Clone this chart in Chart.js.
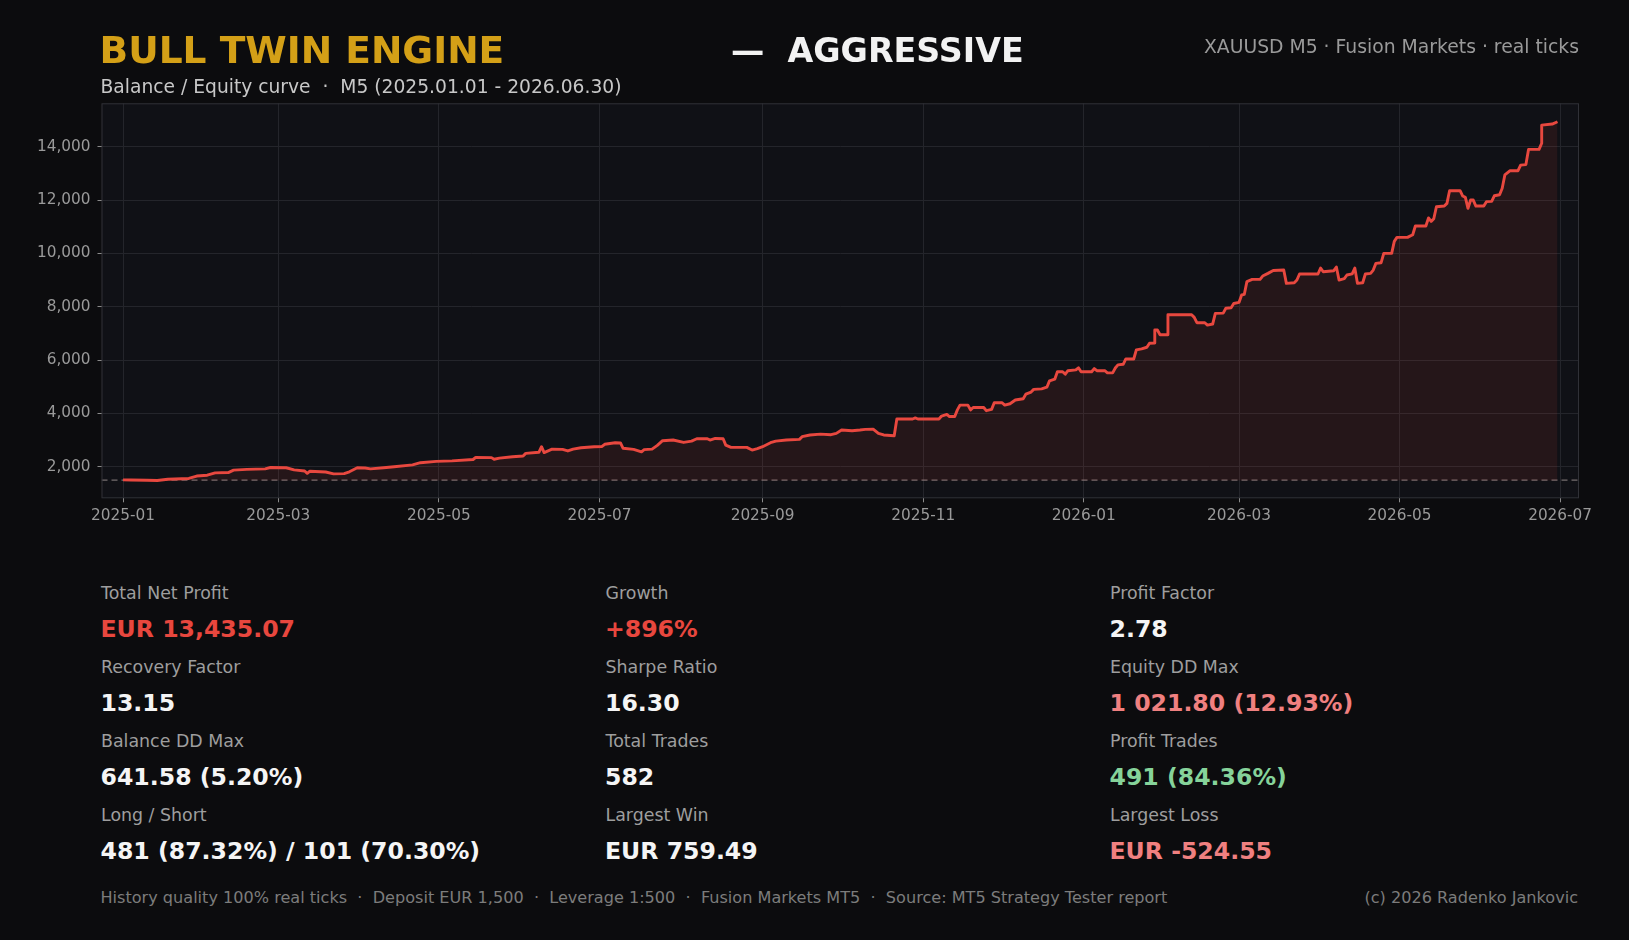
<!DOCTYPE html>
<html><head><meta charset="utf-8">
<script src="https://cdn.jsdelivr.net/npm/chart.js@4.4.1/dist/chart.umd.min.js"></script>
<style>
html,body{margin:0;padding:0;background:#0c0c0e;width:1629px;height:940px;overflow:hidden;font-family:'DejaVu Sans',sans-serif;}
.t{position:absolute;white-space:pre;line-height:1;}
#wrap{position:absolute;left:0;top:0;width:1629px;height:545px;}
</style></head><body>
<div id="wrap"><canvas id="c"></canvas></div>
<div id="texts"></div>
<script>
// ---- data ----
const dates = [
'2025-01-01','2025-01-04','2025-01-10','2025-01-14','2025-01-18','2025-01-26','2025-01-29','2025-02-02','2025-02-05','2025-02-10',
'2025-02-12','2025-02-17','2025-02-24','2025-02-26','2025-03-04','2025-03-07','2025-03-11','2025-03-12','2025-03-13','2025-03-19',
'2025-03-22','2025-03-26','2025-03-28','2025-03-31','2025-04-03','2025-04-05','2025-04-10','2025-04-14','2025-04-21','2025-04-24',
'2025-04-30','2025-05-06','2025-05-14','2025-05-15','2025-05-21','2025-05-22','2025-05-24','2025-05-29','2025-06-02','2025-06-03',
'2025-06-08','2025-06-09','2025-06-10','2025-06-13','2025-06-17','2025-06-19','2025-06-21','2025-06-24','2025-06-29','2025-07-02',
'2025-07-03','2025-07-07','2025-07-09','2025-07-10','2025-07-14','2025-07-17','2025-07-18','2025-07-21','2025-07-23','2025-07-25',
'2025-07-29','2025-08-02','2025-08-05','2025-08-07','2025-08-11','2025-08-12','2025-08-14','2025-08-17','2025-08-18','2025-08-20',
'2025-08-26','2025-08-28','2025-08-30','2025-09-01','2025-09-04','2025-09-06','2025-09-10','2025-09-15','2025-09-16','2025-09-19',
'2025-09-23','2025-09-27','2025-09-29','2025-10-01','2025-10-05','2025-10-08','2025-10-10','2025-10-13','2025-10-15','2025-10-17',
'2025-10-21','2025-10-22','2025-10-28','2025-10-29','2025-10-30','2025-11-07','2025-11-08','2025-11-10','2025-11-11','2025-11-13',
'2025-11-14','2025-11-15','2025-11-18','2025-11-19','2025-11-20','2025-11-24','2025-11-25','2025-11-27','2025-11-28','2025-12-01',
'2025-12-02','2025-12-04','2025-12-06','2025-12-09','2025-12-10','2025-12-12','2025-12-13','2025-12-16','2025-12-18','2025-12-19',
'2025-12-21','2025-12-22','2025-12-24','2025-12-25','2025-12-26','2025-12-29','2025-12-30','2025-12-31','2026-01-04','2026-01-05',
'2026-01-06','2026-01-09','2026-01-10','2026-01-12','2026-01-13','2026-01-14','2026-01-16','2026-01-17','2026-01-20','2026-01-21',
'2026-01-23','2026-01-25','2026-01-26','2026-01-28','2026-01-28','2026-01-29','2026-01-30','2026-02-02','2026-02-02','2026-02-11',
'2026-02-12','2026-02-13','2026-02-16','2026-02-17','2026-02-19','2026-02-20','2026-02-23','2026-02-24','2026-02-26','2026-02-27',
'2026-03-01','2026-03-02','2026-03-03','2026-03-04','2026-03-06','2026-03-09','2026-03-10','2026-03-12','2026-03-14','2026-03-18',
'2026-03-19','2026-03-22','2026-03-23','2026-03-24','2026-03-31','2026-04-01','2026-04-02','2026-04-06','2026-04-07','2026-04-08',
'2026-04-10','2026-04-11','2026-04-13','2026-04-14','2026-04-15','2026-04-17','2026-04-18','2026-04-20','2026-04-21','2026-04-22',
'2026-04-24','2026-04-25','2026-04-28','2026-04-29','2026-04-30','2026-05-04','2026-05-06','2026-05-07','2026-05-11','2026-05-12',
'2026-05-13','2026-05-14','2026-05-15','2026-05-18','2026-05-19','2026-05-20','2026-05-24','2026-05-25','2026-05-26','2026-05-27',
'2026-05-28','2026-05-29','2026-05-30','2026-06-02','2026-06-03','2026-06-05','2026-06-06','2026-06-08','2026-06-09','2026-06-10',
'2026-06-12','2026-06-15','2026-06-16','2026-06-18','2026-06-19','2026-06-23','2026-06-24','2026-06-24','2026-06-28','2026-06-30'
];
const balance = [
1505,1500,1490,1482,1530,1560,1650,1680,1770,1780,
1870,1900,1920,1970,1960,1880,1840,1750,1830,1800,
1730,1740,1810,1960,1950,1920,1960,2000,2070,2150,
2200,2220,2270,2350,2340,2280,2320,2375,2400,2500,
2540,2750,2530,2660,2650,2590,2660,2710,2750,2760,
2840,2900,2890,2690,2650,2560,2640,2660,2800,2975,
3000,2910,2960,3050,3050,3000,3060,3050,2810,2725,
2725,2625,2680,2750,2900,2960,3000,3025,3125,3190,
3220,3200,3250,3375,3350,3375,3400,3410,3250,3190,
3160,3790,3790,3830,3790,3790,3900,3960,3880,3880,
4130,4310,4310,4130,4220,4220,4100,4150,4400,4400,
4310,4360,4500,4550,4720,4800,4900,4920,4980,5220,
5280,5560,5560,5470,5600,5630,5710,5560,5560,5680,
5600,5600,5520,5520,5700,5820,5840,6040,6040,6380,
6420,6480,6630,6640,7125,7125,6950,6950,7700,7700,
7600,7400,7400,7310,7350,7750,7760,7940,7960,8120,
8160,8440,8460,8940,9025,9025,9150,9250,9360,9375,
8875,8900,9000,9225,9225,9450,9310,9350,9490,9000,
9050,9190,9230,9450,8875,8900,9225,9250,9375,9625,
9650,10000,10000,10450,10600,10600,10700,11025,11025,11330,
11200,11300,11750,11775,11875,12350,12350,12150,12100,11690,
12000,12000,11775,11775,11940,11950,12160,12200,12440,12940,
13100,13100,13310,13330,13900,13900,14130,14810,14850,14935
];
const deposit = 1500;
const xTickDates = ['2025-01-01','2025-03-01','2025-05-01','2025-07-01','2025-09-01','2025-11-01','2026-01-01','2026-03-01','2026-05-01','2026-07-01'];
const xTickLabels = ['2025-01','2025-03','2025-05','2025-07','2025-09','2025-11','2026-01','2026-03','2026-05','2026-07'];
const yTicks = [2000,4000,6000,8000,10000,12000,14000];

const statLabels = [
  ['Total Net Profit','Recovery Factor','Balance DD Max','Long / Short'],
  ['Growth','Sharpe Ratio','Total Trades','Largest Win'],
  ['Profit Factor','Equity DD Max','Profit Trades','Largest Loss']
];
const statValues = [
  ['EUR 13,435.07','13.15','641.58 (5.20%)','481 (87.32%) / 101 (70.30%)'],
  ['+896%','16.30','582','EUR 759.49'],
  ['2.78','1 021.80 (12.93%)','491 (84.36%)','EUR -524.55']
];
const statKinds = [
  ['red','white','white','white'],
  ['red','white','white','white'],
  ['white','salmon','green','salmon']
];

// ---- text ----
const FONT = "'DejaVu Sans', sans-serif";
const T = document.getElementById('texts');
function txt(s, o){
  const d = document.createElement('div');
  d.className = 't';
  d.textContent = s;
  d.style.fontSize = o.fs + 'px';
  d.style.fontWeight = o.bold ? 'bold' : 'normal';
  d.style.color = o.color;
  d.style.top = (o.base - 0.846 * o.fs) + 'px';
  if (o.right !== undefined) d.style.right = o.right + 'px'; else d.style.left = o.left + 'px';
  T.appendChild(d);
}
txt('BULL TWIN ENGINE', {left:99.5, base:63.5, fs:37.6, bold:true, color:'#d4a017'});
txt('\u2014  AGGRESSIVE', {left:731, base:62, fs:33.3, bold:true, color:'#f2f2f2'});
txt('XAUUSD M5 \u00b7 Fusion Markets \u00b7 real ticks', {right:50, base:54.3, fs:18.8, color:'#9a9a9a'});
txt('Balance / Equity curve  \u00b7  M5 (2025.01.01 - 2026.06.30)', {left:100.5, base:93.8, fs:18.7, color:'#c8c8c8'});

const kindColor = {red:'#e8473e', white:'#f5f5f5', salmon:'#f08080', green:'#86d39a'};
const colX = [101, 605.5, 1110];
for (let c = 0; c < 3; c++) {
  for (let r = 0; r < 4; r++) {
    txt(statLabels[c][r], {left:colX[c], base:599.3 + 74*r, fs:17.4, color:'#9e9e9e'});
    txt(statValues[c][r], {left:colX[c]-0.5, base:637.5 + 74*r, fs:23.6, bold:true, color:kindColor[statKinds[c][r]]});
  }
}
txt('History quality 100% real ticks  \u00b7  Deposit EUR 1,500  \u00b7  Leverage 1:500  \u00b7  Fusion Markets MT5  \u00b7  Source: MT5 Strategy Tester report', {left:100.5, base:903.5, fs:16.1, color:'#7c7c7c'});
txt('(c) 2026 Radenko Jankovic', {right:51, base:903.5, fs:16.1, color:'#7c7c7c'});

// ---- chart ----
const DAY = 86400000;
const T0 = Date.UTC(2025, 0, 1);
const toDay = s => { const p = s.split('-').map(Number); return (Date.UTC(p[0], p[1]-1, p[2]) - T0) / DAY; };
const xs = dates.map(toDay);
const xSpan = xs[xs.length-1] - xs[0];
const xMin = xs[0] - 0.015 * xSpan;
const xMax = xs[xs.length-1] + 0.015 * xSpan;

const bgPlugin = {
  id: 'plotbg',
  beforeDraw(chart) {
    const {ctx, chartArea:a} = chart;
    ctx.save();
    ctx.fillStyle = '#101116';
    ctx.fillRect(a.left, a.top, a.right - a.left, a.bottom - a.top);
    ctx.restore();
  },
  afterDraw(chart) {
    const {ctx, chartArea:a} = chart;
    ctx.save();
    ctx.strokeStyle = '#303137';
    ctx.lineWidth = 1;
    ctx.strokeRect(a.left + 0.5, a.top + 0.5, a.right - a.left - 1, a.bottom - a.top - 1);
    ctx.restore();
  }
};

const tickFont = {family: FONT, size: 15.3};
new Chart(document.getElementById('c'), {
  type: 'line',
  data: {
    datasets: [
      {
        data: xs.map((x, i) => ({x: x, y: balance[i]})),
        borderColor: '#e8483f',
        borderWidth: 2.9,
        pointRadius: 0,
        tension: 0,
        borderJoinStyle: 'round',
        fill: {value: Math.min(...balance)},
        backgroundColor: 'rgba(229,72,63,0.10)'
      },
      {
        data: [{x: xMin, y: deposit}, {x: xMax, y: deposit}],
        borderColor: 'rgba(150,140,140,0.75)',
        borderWidth: 1.2,
        borderDash: [6, 4],
        pointRadius: 0,
        fill: false
      }
    ]
  },
  options: {
    responsive: true,
    maintainAspectRatio: false,
    animation: false,
    layout: {padding: {top: 103.3, right: 50, left: 0, bottom: 0}},
    plugins: {legend: {display: false}, tooltip: {enabled: false}},
    scales: {
      x: {
        type: 'linear', min: xMin, max: xMax,
        afterBuildTicks: s => { s.ticks = xTickDates.map(d => ({value: toDay(d)})); },
        afterFit: s => { s.height = 46.7; },
        ticks: {callback: (v, i) => xTickLabels[i], color: '#9a9a9a', font: tickFont, padding: 5, maxRotation: 0, autoSkip: false},
        grid: {color: '#24252b', tickColor: '#8a8a8a', tickLength: 4, drawTicks: true},
        border: {display: false}
      },
      y: {
        type: 'linear', min: 815, max: 15628,
        afterBuildTicks: s => { s.ticks = yTicks.map(v => ({value: v})); },
        afterFit: s => { s.width = 101.5; },
        ticks: {callback: v => v.toLocaleString('en-US'), color: '#9a9a9a', font: tickFont, padding: 7},
        grid: {color: '#24252b', tickColor: '#8a8a8a', tickLength: 4, drawTicks: true},
        border: {display: false}
      }
    }
  },
  plugins: [bgPlugin]
});
</script>
</body></html>
